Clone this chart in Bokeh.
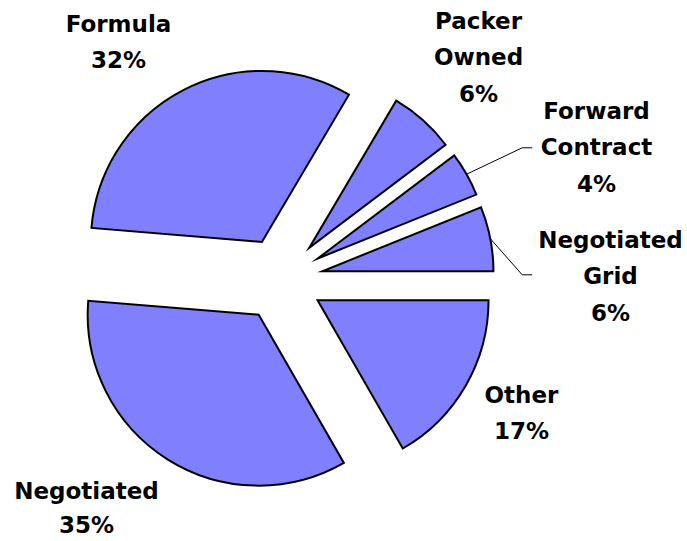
import math
from bokeh.plotting import figure
from bokeh.models import ColumnDataSource
from bokeh.core.properties import value
from bokeh.embed import file_html
from bokeh.resources import INLINE

# ---- data (counter-clockwise from 3 o'clock) ----
categories = ["Negotiated\nGrid", "Forward\nContract", "Packer\nOwned", "Formula", "Negotiated", "Other"]
shares = [6.1, 4.2, 6.2, 32.2, 34.6, 16.7]

# ---- layout ----
W, H = 687, 541
ORIGIN = 0                     # page offset of the canvas
CX, CY = 280.7, 278.7          # pie centre in page pixels
R = 171                        # radius
EXPLODE = 42                   # explosion distance
FONT = "DejaVu Sans"
FSIZE = "23px"
PITCH = 36.5

def to_data(sx, sy):
    return sx - CX, CY - sy

# label anchor (centre of first line, page pixels)
label_anchor = {
    "Negotiated\nGrid": (610, 239),
    "Forward\nContract": (596, 110),
    "Packer\nOwned": (478, 20),
    "Formula": (118, 23),
    "Negotiated": (86, 490),
    "Other": (521, 394),
}
label_pitch = {"Negotiated": 34.5}
# leader line elbows (page pixels) for slices that use leaders
leader_elbow = {
    "Forward\nContract": [(521.7, 147.3), (531.7, 147.3)],
    "Negotiated\nGrid": [(521.7, 274.3), (531.7, 274.3)],
}

total = sum(shares)
starts, ends, xs, ys, mids = [], [], [], [], []
acc = 0.0
for s in shares:
    a0 = 2 * math.pi * acc / total
    acc += s
    a1 = 2 * math.pi * acc / total
    m = (a0 + a1) / 2
    starts.append(a0)
    ends.append(a1)
    mids.append(m)
    xs.append(EXPLODE * math.cos(m))
    ys.append(EXPLODE * math.sin(m))

src = ColumnDataSource(dict(x=xs, y=ys, start=starts, end=ends, cat=categories))

p = figure(width=W, height=H, output_backend="svg", toolbar_location=None,
           x_range=(ORIGIN - CX, ORIGIN - CX + W), y_range=(CY - ORIGIN - H, CY - ORIGIN),
           min_border=0, outline_line_color=None, background_fill_color="white",
           border_fill_color="white")
p.axis.visible = False
p.xgrid.visible = False
p.ygrid.visible = False

p.wedge(x="x", y="y", radius=R, start_angle="start", end_angle="end",
        direction="anticlock", source=src, fill_color="#8080FF",
        line_color="black", line_width=2, line_join="miter")

# leader lines
for i, cat in enumerate(categories):
    if cat in leader_elbow:
        sx0 = xs[i] + R * math.cos(mids[i])
        sy0 = ys[i] + R * math.sin(mids[i])
        lx = [sx0] + [to_data(*pt)[0] for pt in leader_elbow[cat]]
        ly = [sy0] + [to_data(*pt)[1] for pt in leader_elbow[cat]]
        p.line(lx, ly, line_color="black", line_width=1)

# labels
tx, ty, tt = [], [], []
for i, cat in enumerate(categories):
    lines = cat.split("\n") + [f"{round(shares[i])}%"]
    ax, ay = label_anchor[cat]
    pitch = label_pitch.get(cat, PITCH)
    for j, ln in enumerate(lines):
        dx, dy = to_data(ax, ay + j * pitch)
        tx.append(dx)
        ty.append(dy)
        tt.append(ln)

p.text(x=tx, y=ty, text=tt, text_font=value(FONT), text_font_style="bold",
       text_font_size=FSIZE, text_align="center", text_baseline="middle",
       text_color="black")

open("out.html", "w").write(file_html(p, INLINE))
